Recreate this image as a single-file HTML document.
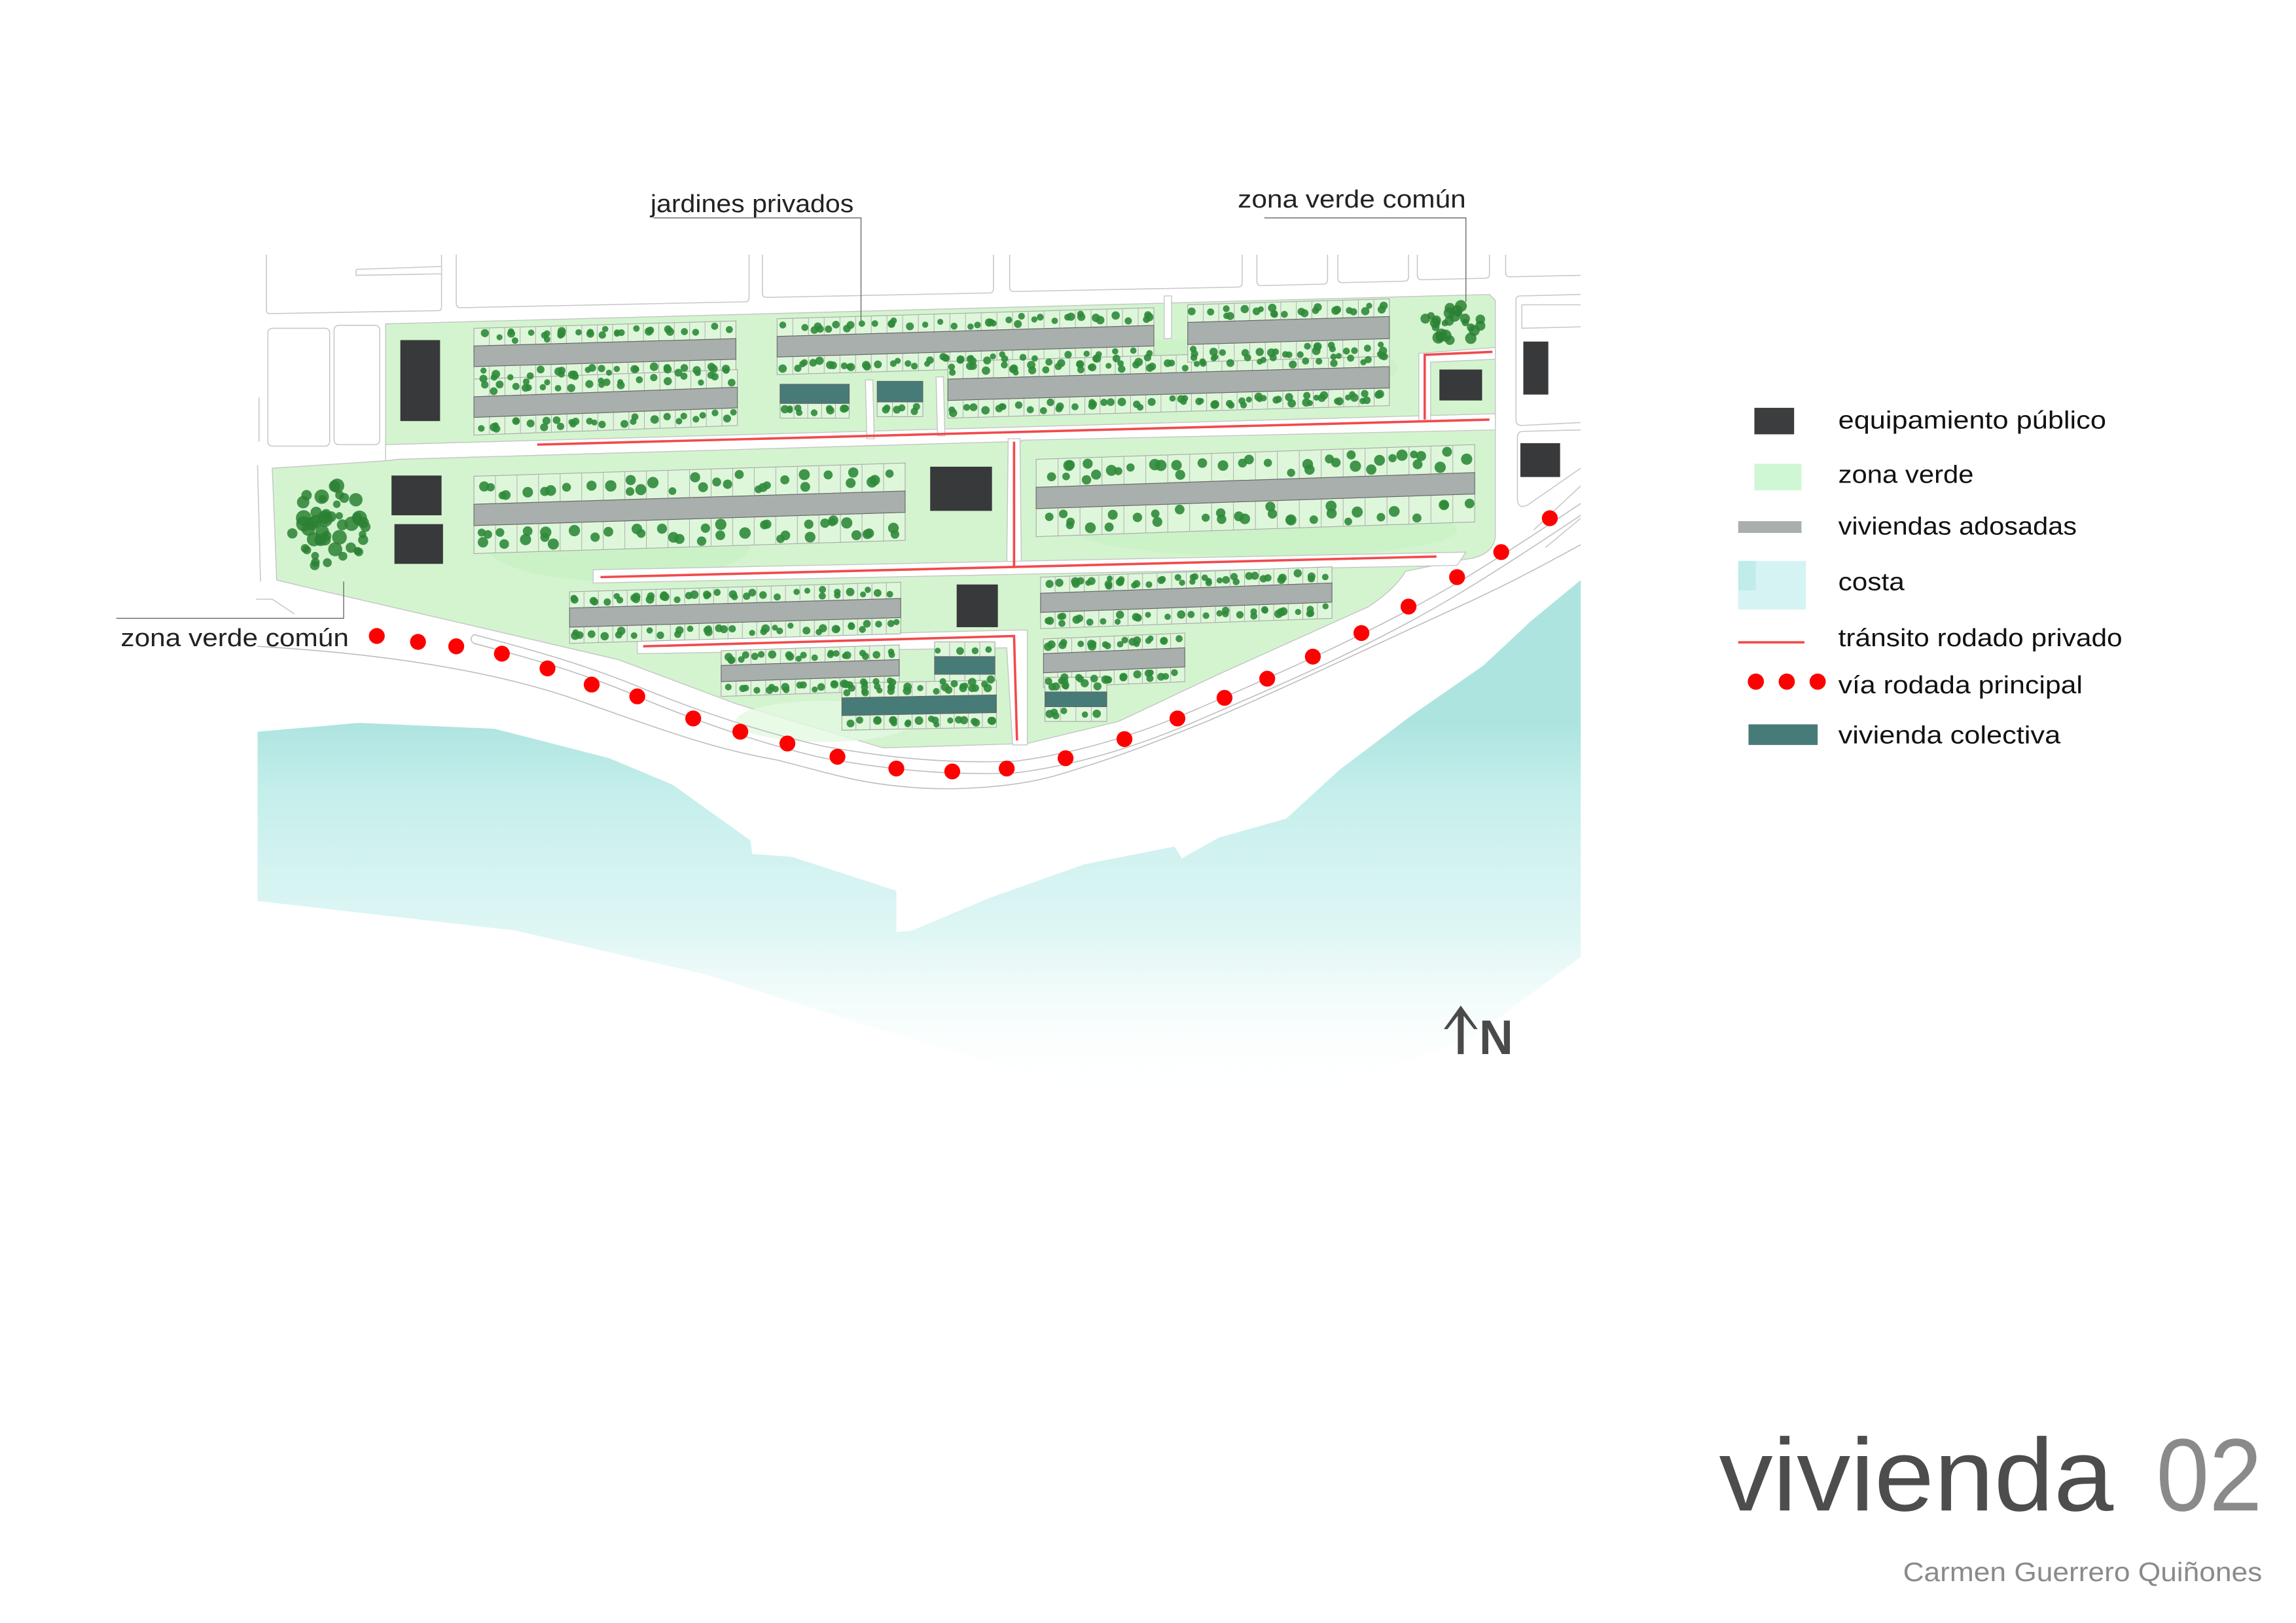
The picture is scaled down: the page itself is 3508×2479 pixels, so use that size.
<!DOCTYPE html>
<html><head><meta charset="utf-8">
<style>
html,body{margin:0;padding:0;background:#fff;}
svg{display:block;}
text{font-family:"Liberation Sans","DejaVu Sans",sans-serif;}
</style></head>
<body>
<svg id="s" xmlns="http://www.w3.org/2000/svg" width="3508" height="2479" viewBox="0 0 1560 1102.4">
<defs>
<linearGradient id="sea" gradientUnits="userSpaceOnUse" x1="0" y1="490" x2="0" y2="750">
<stop offset="0" stop-color="#ade4e0" stop-opacity="1"/>
<stop offset="0.2" stop-color="#c3eeeb" stop-opacity="0.95"/>
<stop offset="0.55" stop-color="#d3f3f1" stop-opacity="0.75"/>
<stop offset="1" stop-color="#ffffff" stop-opacity="0"/>
</linearGradient>
</defs>
<rect width="1560" height="1102.4" fill="#fff"/>

<!-- sea -->
<path d="M175,497 L244,491 L336,495 L414,515 L457,533 L510,571 L511,580 L538,582 L609,605 L609,633 L620,632 L672,610 L737,587 L798,575 L803,583 L828,569 L874,556 L910,523 L959,486 L1008,452 L1040,422 L1074,394 L1074,650 L1000,705 L900,740 L800,748 L700,730 L600,700 L480,662 L350,632 L175,612 Z" fill="url(#sea)"/>

<!-- top lots -->
<g fill="#fff" stroke="#c8c8c8" stroke-width="0.7">
<path d="M181,173 V211 Q181,213 184,213 L298,211 Q300,211 300,208 V173"/>
<path d="M242,183 L300,181 M242,183 V187 L300,186" fill="none"/>
<path d="M310,173 V206 Q310,209 313,209 L506,205 Q509,205 509,202 V173"/>
<path d="M518,173 V199 Q518,202 521,202 L672,199 Q675,199 675,196 V173"/>
<path d="M686,173 V195 Q686,198 689,198 L841,195 Q844,195 844,192 V173"/>
<path d="M854,173 V191 Q854,194 857,194 L899,193 Q902,193 902,190 V173"/>
<path d="M909,173 V189 Q909,192 912,192 L954,191 Q957,191 957,188 V173"/>
<path d="M963,173 V187 Q963,190 966,190 L1009,189 Q1012,189 1012,186 V173"/>
<path d="M1023,173 V185 Q1023,188 1026,188 L1074,187"/>
<rect x="182" y="223" width="42" height="80" rx="3"/>
<rect x="227" y="221" width="31" height="81" rx="3"/>
<path d="M1074,200 L1033,201 Q1030,201 1030,204 V285 Q1030,289 1034,289 L1074,287"/>
<path d="M1034,207 L1074,207 M1034,207 V223 L1074,222"/>
<path d="M1074,292 L1035,293 Q1031,293 1031,297 V340 Q1032,346 1038,343 L1074,318"/>
<path d="M1074,330 L1042,360 M1074,352 L1050,372"/>
<path d="M175,316 L177,395 M176,270 V300 M174,407 L185,407 L200,417"/>
</g>

<!-- green base -->
<path d="M262,220 L1012,200 L1016,204 L1016,365 Q1014,378 995,380 L955,388 Q948,400 930,412 L828,458 L760,490 L698,505 L600,508 L500,478 L420,448 L347,431 L213,400 L188,394 L185,318 L262,313 Z" fill="#d3f4cf" stroke="#c4c4c4" stroke-width="0.6"/>
<ellipse cx="420" cy="370" rx="90" ry="25" fill="#c6f0c1" opacity="0.6"/>
<ellipse cx="830" cy="250" rx="120" ry="20" fill="#c6f0c1" opacity="0.5"/>
<ellipse cx="860" cy="360" rx="130" ry="18" fill="#c6f0c1" opacity="0.5"/>
<ellipse cx="560" cy="490" rx="60" ry="14" fill="#e4f9e1" opacity="0.8"/>

<!-- white roads inside -->
<g fill="#fff" stroke="#c4c4c4" stroke-width="0.6">
<path d="M262,302 L1016,281 L1016,292 L694,299 L694,300 L686,300 L270,312 L262,313 Z"/>
<path d="M685,298 L693,298 L694,388 L684,388 Z"/>
<path d="M403,387 L996,375 L990,384 L403,396 Z"/>
<path d="M433,434 L690,428 L698,428 L698,506 L688,506 L684,440 L433,444 Z"/>
<path d="M964,240 L1016,236 L1016,244 L972,246 L972,286 L964,286 Z"/>
<path d="M791,201 L796,201 L796,230 L791,230 Z"/>
<path d="M588,258 L593,258 L594,298 L589,298 Z"/>
<path d="M636,256 L641,256 L642,296 L637,296 Z"/>
</g>
<g fill="none" stroke="#f14a4c" stroke-width="1.6">
<path d="M365,302 L1012,285"/>
<path d="M689,300 L689,385"/>
<path d="M408,392 L976,378"/>
<path d="M437,439 L689,432 L691,503"/>
<path d="M968,285 L968,241 L1014,239"/>
</g>

<!-- main road -->
<g fill="none" stroke="#bdbdbd" stroke-width="0.7">
<path d="M175,439 C260,444 330,455 385,473 C440,492 480,508 527,516 C560,524 580,532 622,535 C650,537 690,535 720,526 C760,514 780,506 820,490 C880,464 930,440 1000,408 C1030,394 1050,383 1074,370"/>
<path d="M322,437 C360,447 400,458 440,476 C480,492 520,506 560,515 C600,522 640,527 690,525 C730,520 770,508 810,491 C870,465 930,440 990,404 C1020,386 1050,366 1074,350"/>
<path d="M322,431 C360,441 400,452 440,469 C480,485 520,498 560,507 C600,514 640,519 690,517 C730,512 770,500 810,483 C870,457 930,431 990,396 C1020,378 1050,358 1074,342"/>
<path d="M322,431 Q318,434 322,437"/>
</g>
<g fill="#fe0000">
<circle cx="256" cy="432" r="5.4"/><circle cx="284" cy="436" r="5.4"/><circle cx="310" cy="439" r="5.4"/>
<circle cx="341" cy="444" r="5.4"/><circle cx="372" cy="454" r="5.4"/><circle cx="402" cy="465" r="5.4"/>
<circle cx="433" cy="473" r="5.4"/><circle cx="471" cy="488" r="5.4"/><circle cx="503" cy="497" r="5.4"/>
<circle cx="535" cy="505" r="5.4"/><circle cx="569" cy="514" r="5.4"/><circle cx="609" cy="522" r="5.4"/>
<circle cx="647" cy="524" r="5.4"/><circle cx="684" cy="522" r="5.4"/><circle cx="724" cy="515" r="5.4"/>
<circle cx="764" cy="502" r="5.4"/><circle cx="800" cy="488" r="5.4"/><circle cx="832" cy="474" r="5.4"/>
<circle cx="861" cy="461" r="5.4"/><circle cx="892" cy="446" r="5.4"/><circle cx="925" cy="430" r="5.4"/>
<circle cx="957" cy="412" r="5.4"/><circle cx="990" cy="392" r="5.4"/><circle cx="1020" cy="375" r="5.4"/>
<circle cx="1053" cy="352" r="5.4"/>
</g>

<g id="plots"></g>

<!-- equipment -->
<g fill="#38393a">
<rect x="272" y="231" width="27" height="55"/>
<rect x="266" y="323" width="34" height="27"/>
<rect x="268" y="356" width="33" height="27"/>
<rect x="632" y="317" width="42" height="30"/>
<rect x="650" y="397" width="28" height="29"/>
<rect x="978" y="251" width="29" height="21"/>
<rect x="1035" y="232" width="17" height="36"/>
<rect x="1033" y="301" width="27" height="23"/>
</g>
<g id="trees"></g>

<!-- labels -->
<g fill="none" stroke="#666" stroke-width="0.6">
<path d="M444,148 L585,148 L585,218"/>
<path d="M859,148 L996,148 L996,205"/>
<path d="M79,420 L233.5,420 L233.5,395"/>
</g>
<g fill="#222" font-size="17">
<text x="442" y="144" textLength="138" lengthAdjust="spacingAndGlyphs">jardines privados</text>
<text x="841" y="141" textLength="155" lengthAdjust="spacingAndGlyphs">zona verde común</text>
<text x="82" y="439" textLength="155" lengthAdjust="spacingAndGlyphs">zona verde común</text>
</g>

<!-- legend -->
<rect x="1192" y="277" width="27" height="18" fill="#3c3d3e"/>
<rect x="1192" y="315" width="32" height="18" fill="#d0f7d4"/>
<rect x="1181" y="354" width="43" height="8" fill="#a8afad"/>
<rect x="1181" y="381" width="46" height="33" fill="#d5f3f2"/>
<rect x="1181" y="381" width="12" height="20" fill="#c0ecea"/>
<rect x="1181" y="435.5" width="45" height="1.6" fill="#f14a4c"/>
<circle cx="1193" cy="463" r="5.5" fill="#fe0000"/><circle cx="1214" cy="463" r="5.5" fill="#fe0000"/><circle cx="1235" cy="463" r="5.5" fill="#fe0000"/>
<rect x="1188" y="492" width="47" height="14" fill="#467b78"/>
<g fill="#111" font-size="17">
<text x="1249" y="291" textLength="182" lengthAdjust="spacingAndGlyphs">equipamiento público</text>
<text x="1249" y="328" textLength="92" lengthAdjust="spacingAndGlyphs">zona verde</text>
<text x="1249" y="363" textLength="162" lengthAdjust="spacingAndGlyphs">viviendas adosadas</text>
<text x="1249" y="401" textLength="45" lengthAdjust="spacingAndGlyphs">costa</text>
<text x="1249" y="439" textLength="193" lengthAdjust="spacingAndGlyphs">tránsito rodado privado</text>
<text x="1249" y="471" textLength="166" lengthAdjust="spacingAndGlyphs">vía rodada principal</text>
<text x="1249" y="505" textLength="151" lengthAdjust="spacingAndGlyphs">vivienda colectiva</text>
</g>

<!-- north -->
<path d="M992.5,683 L981,699 L983.5,699 L990.5,690 L990.5,716 L994.5,716 L994.5,690 L1001.5,699 L1004,699 Z" fill="#4a4a4a"/>
<text x="1005" y="716" font-size="33" font-weight="bold" fill="#4a4a4a" textLength="23" lengthAdjust="spacingAndGlyphs">N</text>

<!-- title -->
<text x="1168" y="1026" font-size="70" fill="#4d4d4d" textLength="268" lengthAdjust="spacingAndGlyphs">vivienda</text>
<text x="1465" y="1026" font-size="70" fill="#8a8a8a" textLength="72" lengthAdjust="spacingAndGlyphs">02</text>
<text x="1293" y="1074" font-size="18" fill="#8a8a8a" textLength="244" lengthAdjust="spacingAndGlyphs">Carmen Guerrero Quiñones</text>
</svg>
<script>
(function(){
var NS="http://www.w3.org/2000/svg";
var seed=12345;function rnd(){seed=(seed*16807)%2147483647;return (seed-1)/2147483646;}
var P=document.getElementById("plots"),T=document.getElementById("trees");
function el(t,a,p){var e=document.createElementNS(NS,t);for(var k in a)e.setAttribute(k,a[k]);p.appendChild(e);return e;}
function strip(x1,y1,x2,y2,sh,cw){
  var m=(y2-y1)/(x2-x1);
  el("path",{d:"M"+x1+","+y1+" L"+x2+","+y2+" L"+x2+","+(y2+sh)+" L"+x1+","+(y1+sh)+" Z",fill:"#def7da",stroke:"#a9a9a9","stroke-width":0.5},P);
  var n=Math.round((x2-x1)/cw),w=(x2-x1)/n;
  for(var i=0;i<n;i++){
    var x=x1+i*w,y=y1+m*(i*w);
    if(i>0)el("line",{x1:x,y1:y,x2:x,y2:y+sh,stroke:"#b0b0b0","stroke-width":0.45},P);
    var k=1+Math.floor(rnd()*2.4);
    for(var j=0;j<k;j++){
      var r=sh>15?2.6+rnd()*1.3:2.0+rnd()*0.9;
      var cx=x+r+rnd()*(w-2*r),cy=y+m*(cx-x)+r+0.5+rnd()*(sh-2*r-1);
      el("circle",{cx:cx,cy:cy,r:r,fill:"#2f8a3a","fill-opacity":0.9},T);
    }
  }
}
function bar(x1,y1,x2,y2,h,sh,cw,col,top,bot){
  if(top!==false)strip(x1,y1-sh,x2,y2-sh,sh,cw);
  if(bot!==false)strip(x1,y1+h,x2,y2+h,sh,cw);
  el("path",{d:"M"+x1+","+y1+" L"+x2+","+y2+" L"+x2+","+(y2+h)+" L"+x1+","+(y1+h)+" Z",fill:col||"#a8afad",stroke:"#666","stroke-width":0.5},P);
}
bar(322,235,500,230,14,12,10.5);
bar(322,269.5,501,263,14,12,10.5);
bar(528,228.5,784,221,14,12,10.5);
bar(644,257.5,944,249,14.5,12,10.5);
bar(807,219,944,215,15,12,10.5);
bar(322,342.5,615,333.5,14.5,19,15);
bar(704,331,1002,321,14.5,19,15);
bar(387,413,612,406.5,13,11,10);
bar(707,403,905,396,13,11,10);
bar(490,452,611,448,11,10,10);
bar(709,444,805,440,13,10,10);
bar(530,261,577,261,13,10,9.5,"#467b78",false);
bar(596,259,627,259,14,10,10,"#467b78",false);
bar(635,446,676,446,12,10,10,"#467b78");
bar(572,474,677,472,12,10,10,"#467b78");
bar(710,470,752,470,10,10,10,"#467b78");
function cluster(cx,cy,rx,ry,n,r0,r1){
  for(var i=0;i<n;i++){var a=rnd()*6.283,d=Math.sqrt(rnd());
    el("circle",{cx:cx+Math.cos(a)*d*rx,cy:cy+Math.sin(a)*d*ry,r:r0+rnd()*(r1-r0),fill:"#2b8034","fill-opacity":0.85},T);}
}
cluster(224,358,26,29,48,2.5,5.5);
cluster(986,220,21,13,26,2.2,4.2);
})();
</script>
</body></html>
